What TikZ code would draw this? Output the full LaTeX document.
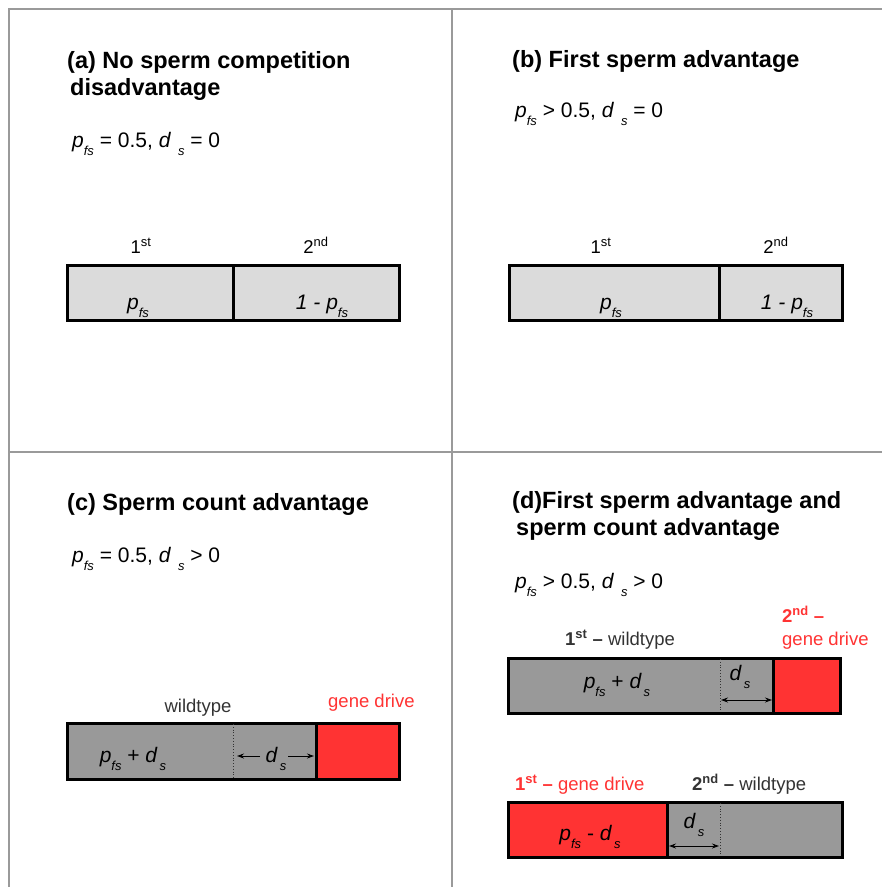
\documentclass[tikz,border=0pt]{standalone}
\usepackage{fontspec}
\setmainfont{Liberation Sans}
\usetikzlibrary{arrows.meta}

\definecolor{drivered}{HTML}{FF3333}
\definecolor{wildfill}{HTML}{999999}
\definecolor{plainfill}{HTML}{DBDBDB}
\definecolor{panelline}{HTML}{9A9A9A}
\definecolor{labeltext}{HTML}{333333}

\newcommand{\lowsub}[1]{\raisebox{-0.42em}{\fontsize{13}{13}\selectfont\itshape #1}}
\newcommand{\pfs}{\textit{p}\lowsub{fs}}
\newcommand{\dsub}{\textit{d}\kern2pt\lowsub{s}}
\newcommand{\dform}{\textit{d}\kern7pt\lowsub{s}}

\tikzset{
    title/.style={anchor=base west, inner sep=0pt, font=\fontsize{23.5}{28}\selectfont\bfseries},
    formula/.style={anchor=base west, inner sep=0pt, font=\fontsize{21}{25}\selectfont},
    order/.style={anchor=base, inner sep=0pt, font=\fontsize{18.5}{22}\selectfont},
    inside/.style={anchor=base, inner sep=0pt, font=\fontsize{21}{25}\selectfont},
    bar/.style={draw=black, line width=3pt},
    panel/.style={draw=panelline, line width=1.3pt},
    split/.style={draw=black!80, line width=0.8pt, dotted},
    dsarrow/.style={-{Stealth[length=7pt,width=5pt]}, line width=0.9pt},
    dsboth/.style={{Stealth[length=7pt,width=5pt]}-{Stealth[length=7pt,width=5pt]}, line width=0.9pt},
}

\begin{document}
\begin{tikzpicture}[x=1pt,y=-1pt]
    \useasboundingbox (0,0) rectangle (882,887);

    % Draw panel lines
    \draw[panel] (882,9) -- (9,9) -- (9,887);
    \draw[panel] (452,9) -- (452,887);
    \draw[panel] (9,452) -- (882,452);

    % (a)
    \node[title] (ta) at (67,68) {(a) No sperm competition};
    \node[title] (ta2) at (70,95) {disadvantage};
    \node[formula] (fa) at (72,147) {\pfs{} = 0.5, \dform{} = 0};
    \filldraw[bar, fill=plainfill] (67,265) rectangle (233,320);
    \filldraw[bar, fill=plainfill] (233,265) rectangle (399,320);
    \node[order] (a first) at (141,253) {1\textsuperscript{st}};
    \node[order] (a second) at (316,253) {2\textsuperscript{nd}};
    \node[inside] (a pfs) at (138,309) {\pfs};
    \node[inside] (a rest) at (322,309) {\textit{1 - p}\lowsub{fs}};

    % (b)
    \node[title] (tb) at (512,67) {(b) First sperm advantage};
    \node[formula] (fb) at (515,117) {\pfs{} \textgreater{} 0.5, \dform{} = 0};
    \filldraw[bar, fill=plainfill] (509,265) rectangle (719,320);
    \filldraw[bar, fill=plainfill] (719,265) rectangle (842,320);
    \node[order] (b first) at (601,253) {1\textsuperscript{st}};
    \node[order] (b second) at (776,253) {2\textsuperscript{nd}};
    \node[inside] (b pfs) at (611,309) {\pfs};
    \node[inside] (b rest) at (787,309) {\textit{1 - p}\lowsub{fs}};

    % (c)
    \node[title] (tc) at (67,510) {(c) Sperm count advantage};
    \node[formula] (fc) at (72,562) {\pfs{} = 0.5, \dform{} \textgreater{} 0};
    \filldraw[bar, fill=wildfill] (67,723) rectangle (316,779);
    \filldraw[bar, fill=drivered] (316,723) rectangle (399,779);
    \draw[split] (233,724) -- (233,778);
    \node[order, text=labeltext] (c wild) at (198,712) {wildtype};
    \node[order, anchor=base west, text=drivered] (c drive) at (328,707) {gene drive};
    \node[inside] (c sum) at (133,762) {\pfs{} + \dsub};
    \node[inside] (c ds) at (276,762) {\dsub};
    \coordinate (c left) at (260,756);
    \coordinate (c cut) at (237,756);
    \coordinate (c right) at (288,756);
    \coordinate (c end) at (314,756);
    \draw[dsarrow] (c left) -- (c cut);
    \draw[dsarrow] (c right) -- (c end);

    % (d)
    \node[title] (td) at (512,508) {(d)First sperm advantage and};
    \node[title] (td2) at (516,535) {sperm count advantage};
    \node[formula] (fd) at (515,588) {\pfs{} \textgreater{} 0.5, \dform{} \textgreater{} 0};

    \filldraw[bar, fill=wildfill] (508,658) rectangle (773,713);
    \filldraw[bar, fill=drivered] (773,658) rectangle (840,713);
    \draw[split] (720,659) -- (720,712);
    \node[order, anchor=base west, text=labeltext] (d wild) at (565,645)
        {\textbf{1\textsuperscript{st} --} wildtype};
    \node[order, anchor=base west, text=drivered] (d second) at (782,622)
        {\textbf{2\textsuperscript{nd} --}};
    \node[order, anchor=base west, text=drivered] (d drive) at (782,645) {gene drive};
    \node[inside] (d sum) at (617,688) {\pfs{} + \dsub};
    \node[inside] (d ds) at (740,680) {\dsub};
    \coordinate (d cut) at (721,700);
    \coordinate (d end) at (772,700);
    \draw[dsboth] (d cut) -- (d end);

    \filldraw[bar, fill=drivered] (508,802) rectangle (667,857);
    \filldraw[bar, fill=wildfill] (667,802) rectangle (842,857);
    \draw[split] (720,803) -- (720,856);
    \node[order, anchor=base west, text=drivered] (e drive) at (515,790)
        {\textbf{1\textsuperscript{st} --} gene drive};
    \node[order, anchor=base west, text=labeltext] (e wild) at (692,790)
        {\textbf{2\textsuperscript{nd} --} wildtype};
    \node[inside] (e diff) at (590,840) {\pfs{} - \dsub};
    \node[inside] (e ds) at (694,828) {\dsub};
    \coordinate (e cut) at (669,846);
    \coordinate (e end) at (719,846);
    \draw[dsboth] (e cut) -- (e end);
\end{tikzpicture}
\end{document}
